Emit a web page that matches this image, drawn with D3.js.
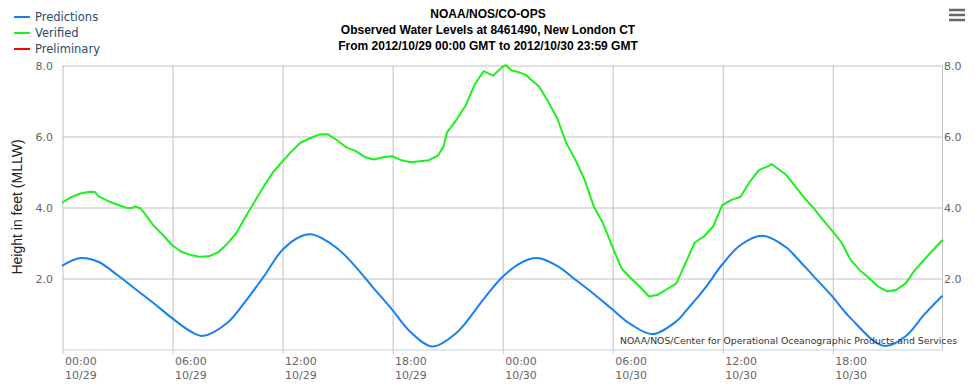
<!DOCTYPE html>
<html>
<head>
<meta charset="utf-8">
<script src="https://cdn.jsdelivr.net/npm/d3@7"></script>
<style>
  body { margin: 0; background: #fff; }
  svg { display: block; }
</style>
</head>
<body>
<div id="chart"></div>
<script>
// chart data
var startTime = Date.UTC(2012, 9, 29, 0, 0);
var endTime = Date.UTC(2012, 9, 30, 23, 59);

// Predictions (hours since start, feet)
var predHours = [0, 1, 2, 3, 4, 5, 6, 7, 7.7, 9, 10, 11, 12, 13, 13.6, 15, 16, 17, 18, 19, 20.2, 21.5, 22, 23, 24,
  25, 25.9, 27, 28, 29, 30, 31, 32.2, 33.5, 34, 35, 36, 37, 38.2, 39.5, 40, 41, 42, 43, 44.8, 46, 47, 48];
var predFeet = [2.34, 2.56, 2.45, 2.09, 1.69, 1.29, 0.87, 0.50, 0.37, 0.73, 1.34, 2.04, 2.78, 3.17, 3.23, 2.84, 2.32, 1.71, 1.11, 0.48, 0.07, 0.45, 0.73, 1.41, 2.02,
  2.42, 2.56, 2.34, 1.95, 1.55, 1.12, 0.70, 0.42, 0.78, 1.06, 1.67, 2.38, 2.93, 3.19, 2.86, 2.60, 2.04, 1.48, 0.87, 0.09, 0.36, 0.96, 1.50];

// Verified (hours since start, feet)
var verHours = [0, 0.5, 1, 1.5, 1.8, 2, 2.5, 3, 3.5, 3.8, 4, 4.3, 4.5, 5, 5.5, 6, 6.5, 7, 7.5, 8, 8.5, 9, 9.5, 10, 10.5, 11, 11.5, 12,
  12.5, 13, 13.5, 14, 14.5, 15, 15.5, 16, 16.5, 17, 17.5, 18, 18.5, 19, 19.5, 20, 20.5, 20.8, 21, 21.5, 22, 22.5, 23, 23.5, 24,
  24.2, 24.5, 25, 25.3, 25.5, 26, 26.5, 27, 27.5, 28, 28.5, 29, 29.5, 30, 30.5, 31, 31.5, 32, 32.5, 33, 33.5, 34, 34.5, 35, 35.5, 36,
  36.5, 37, 37.5, 38, 38.5, 38.7, 39, 39.5, 40, 40.5, 41, 41.5, 42, 42.5, 43, 43.5, 44, 44.5, 45, 45.5, 46, 46.5, 47, 47.5, 48];
var verFeet = [4.12, 4.28, 4.38, 4.43, 4.42, 4.30, 4.17, 4.07, 3.98, 3.97, 4.02, 3.95, 3.82, 3.47, 3.21, 2.93, 2.74, 2.65, 2.60, 2.61, 2.72, 2.96, 3.26, 3.72, 4.15, 4.58, 4.98, 5.27,
  5.56, 5.81, 5.93, 6.04, 6.05, 5.88, 5.68, 5.58, 5.41, 5.34, 5.40, 5.43, 5.32, 5.26, 5.29, 5.32, 5.45, 5.70, 6.11, 6.45, 6.85, 7.45, 7.83, 7.70, 7.94,
  8.00, 7.85, 7.78, 7.72, 7.62, 7.40, 6.98, 6.50, 5.80, 5.32, 4.76, 4.01, 3.54, 2.89, 2.28, 2.00, 1.76, 1.48, 1.53, 1.69, 1.85, 2.42, 3.00, 3.17, 3.45, 4.05,
  4.20, 4.29, 4.71, 5.04, 5.15, 5.21, 5.09, 4.90, 4.57, 4.24, 3.96, 3.63, 3.33, 3.00, 2.51, 2.22, 2.00, 1.76, 1.62, 1.67, 1.85, 2.22, 2.51, 2.79, 3.07];

var tickHours = [0, 6, 12, 18, 24, 30, 36, 42];
var tickTimes = ["00:00", "06:00", "12:00", "18:00", "00:00", "06:00", "12:00", "18:00"];
var tickDays = ["10/29", "10/29", "10/29", "10/29", "10/30", "10/30", "10/30", "10/30"];
var yTicks = [2, 4, 6, 8];

var titleLines = ["NOAA/NOS/CO-OPS",
  "Observed Water Levels at 8461490, New London CT",
  "From 2012/10/29 00:00 GMT to 2012/10/30 23:59 GMT"];
var legendNames = ["Predictions", "Verified", "Preliminary"];
var legendColors = ["#1a7ff0", "#1ef01e", "#ff0000"];

var svgWidth = 975;
var svgHeight = 388;
var plot = { left: 62, right: 942, top: 65, bottom: 349 };

var toDate = h => new Date(startTime + h * 3600e3);

var svg = d3.select("#chart")
  .append("svg")
  .attr("width", svgWidth)
  .attr("height", svgHeight);

var x = d3.scaleUtc()
  .domain([new Date(startTime), new Date(endTime)])
  .range([plot.left, plot.right]);

var y = d3.scaleLinear()
  .domain([0, 8])
  .range([plot.bottom, plot.top]);

var axisFont = "'DejaVu Sans', Verdana, sans-serif";

// grid lines
var grid = svg.append("g").attr("transform", "translate(0.5,0.5)");

grid.append("g")
  .attr("transform", `translate(0,${plot.bottom})`)
  .call(d3.axisBottom(x).tickValues(tickHours.map(toDate)).tickSize(-(plot.bottom - plot.top)).tickFormat(""))
  .call(g => g.select(".domain").remove())
  .selectAll("line").attr("stroke", "#c0c0c0");

grid.append("g")
  .attr("transform", `translate(${plot.left},0)`)
  .call(d3.axisLeft(y).tickValues(yTicks).tickSize(-(plot.right - plot.left)).tickFormat(""))
  .call(g => g.select(".domain").remove())
  .selectAll("line").attr("stroke", "#c0c0c0");

// right axis line
grid.append("line")
  .attr("x1", plot.right).attr("x2", plot.right)
  .attr("y1", plot.top).attr("y2", plot.bottom)
  .attr("stroke", "#c0c0c0");

// x axis
var xAxis = grid.append("g")
  .attr("transform", `translate(0,${plot.bottom})`)
  .call(d3.axisBottom(x).tickValues(tickHours.map(toDate)).tickSize(5).tickSizeOuter(0).tickFormat(""));
xAxis.select(".domain").attr("stroke", "#c0d0e0");
xAxis.selectAll("line").attr("stroke", "#c0d0e0");

var xLabels = svg.append("g")
  .attr("font-family", axisFont)
  .attr("font-size", "11px")
  .attr("fill", "#666");

tickHours.forEach(function(h, i) {
  var t = xLabels.append("text")
    .attr("x", x(toDate(h)) + 3);
  t.append("tspan").attr("x", x(toDate(h)) + 3).attr("y", 365).text(tickTimes[i]);
  t.append("tspan").attr("x", x(toDate(h)) + 3).attr("y", 379).text(tickDays[i]);
});

// y labels, both sides
var yLabels = svg.append("g")
  .attr("font-family", axisFont)
  .attr("font-size", "11px")
  .attr("fill", "#666");

yLabels.selectAll(".yl")
  .data(yTicks)
  .enter()
  .append("text")
  .attr("x", plot.left - 9)
  .attr("y", d => y(d) + 5)
  .attr("text-anchor", "end")
  .text(d => d.toFixed(1));

yLabels.selectAll(".yr")
  .data(yTicks)
  .enter()
  .append("text")
  .attr("x", plot.right + 2)
  .attr("y", d => y(d) + 5)
  .text(d => d.toFixed(1));

svg.append("text")
  .attr("transform", `translate(22,${(plot.top + plot.bottom) / 2}) rotate(-90)`)
  .attr("text-anchor", "middle")
  .attr("font-family", "'Liberation Sans', Arial, sans-serif")
  .attr("font-size", "14px")
  .attr("fill", "#222")
  .text("Height in feet (MLLW)");

// series
var line = d3.line()
  .x(d => x(toDate(d[0])))
  .y(d => y(d[1]));

svg.append("path")
  .datum(d3.zip(predHours, predFeet))
  .attr("fill", "none")
  .attr("stroke", legendColors[0])
  .attr("stroke-width", 2)
  .attr("d", line.curve(d3.curveCatmullRom.alpha(0.5)));

svg.append("path")
  .datum(d3.zip(verHours, verFeet))
  .attr("fill", "none")
  .attr("stroke", legendColors[1])
  .attr("stroke-width", 2)
  .attr("stroke-linejoin", "round")
  .attr("d", line.curve(d3.curveLinear));

// title
var title = svg.append("text")
  .attr("text-anchor", "middle")
  .attr("font-family", "'Liberation Sans', Arial, sans-serif")
  .attr("font-weight", "bold")
  .attr("font-size", "12px")
  .attr("fill", "#000");

titleLines.forEach(function(s, i) {
  title.append("tspan")
    .attr("x", 488)
    .attr("y", 18 + i * 16)
    .text(s);
});

// legend
var legend = svg.append("g")
  .attr("font-family", axisFont)
  .attr("font-size", "11.5px")
  .attr("fill", "#274b6d");

legendNames.forEach(function(name, i) {
  var ly = 17 + i * 16;
  legend.append("line")
    .attr("x1", 14).attr("x2", 30)
    .attr("y1", ly).attr("y2", ly)
    .attr("stroke", legendColors[i])
    .attr("stroke-width", 2);
  legend.append("text")
    .attr("x", 35)
    .attr("y", ly + 4)
    .text(name);
});

// credits
svg.append("text")
  .attr("x", 957)
  .attr("y", 344)
  .attr("text-anchor", "end")
  .attr("font-family", axisFont)
  .attr("font-size", "9.3px")
  .attr("fill", "#333")
  .text("NOAA/NOS/Center for Operational Oceanographic Products and Services");

// menu icon
[10, 15, 20].forEach(function(my) {
  svg.append("line")
    .attr("x1", 949).attr("x2", 965)
    .attr("y1", my).attr("y2", my)
    .attr("stroke", "#666")
    .attr("stroke-width", 2.5);
});
</script>
</body>
</html>
